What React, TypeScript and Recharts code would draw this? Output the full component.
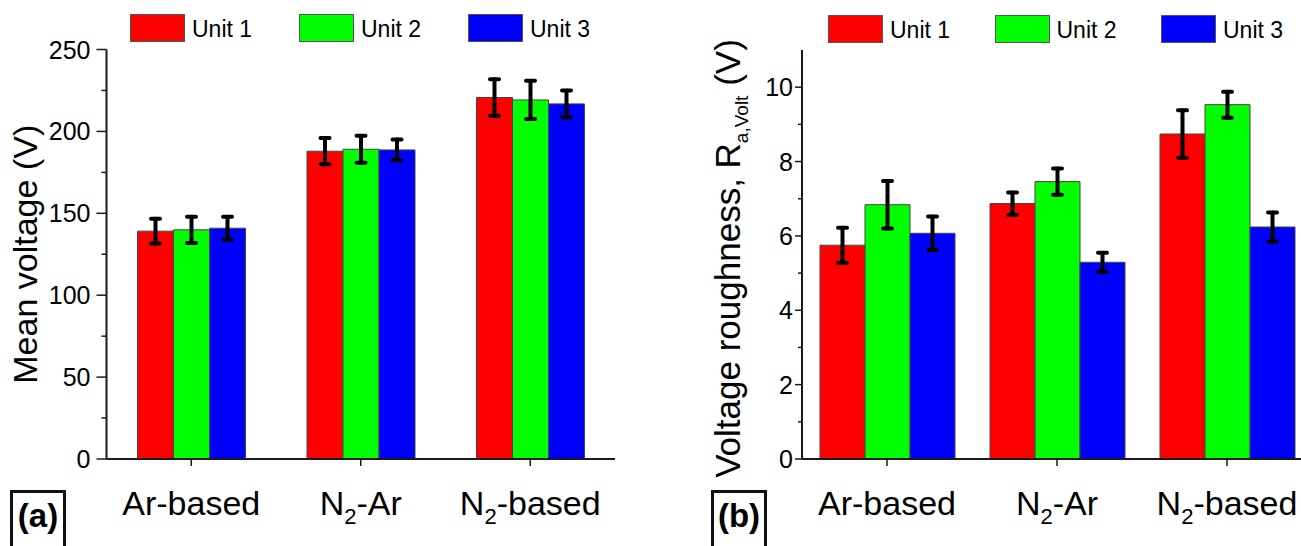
import React from "react";
import { BarChart, Bar, XAxis, YAxis, CartesianGrid, ErrorBar, Legend } from "recharts";

const categories = ["Ar-based", "N2-Ar", "N2-based"];
const unitNames = ["Unit 1", "Unit 2", "Unit 3"];

// (a) mean voltage (V) and its error
const meanUnit1 = [139.1, 187.9, 220.7];
const meanUnit2 = [139.9, 189.1, 219.2];
const meanUnit3 = [140.9, 188.7, 216.8];
const meanErr1 = [7.5, 8.0, 11.2];
const meanErr2 = [8.0, 8.3, 11.7];
const meanErr3 = [7.0, 6.3, 8.2];

// (b) voltage roughness Ra,Volt (V) and its error
const roughUnit1 = [5.75, 6.87, 8.74];
const roughUnit2 = [6.84, 7.46, 9.53];
const roughUnit3 = [6.07, 5.29, 6.24];
const roughErr1 = [0.47, 0.3, 0.64];
const roughErr2 = [0.64, 0.35, 0.35];
const roughErr3 = [0.45, 0.26, 0.39];

const meanMajor = [0, 50, 100, 150, 200, 250];
const meanMinor = [25, 75, 125, 175, 225];
const roughMajor = [0, 2, 4, 6, 8, 10];
const roughMinor = [1, 3, 5, 7, 9];

const meanRows = categories.map((cat, i) => ({
  cat,
  u1: meanUnit1[i], u2: meanUnit2[i], u3: meanUnit3[i],
  e1: meanErr1[i], e2: meanErr2[i], e3: meanErr3[i],
}));
const roughRows = categories.map((cat, i) => ({
  cat,
  u1: roughUnit1[i], u2: roughUnit2[i], u3: roughUnit3[i],
  e1: roughErr1[i], e2: roughErr2[i], e3: roughErr3[i],
}));

const FONT = '"Liberation Sans", Arial, Helvetica, sans-serif';
const COLORS = ["#ff0000", "#00ff00", "#0000ff"];
const AXIS = "#1a1a1a";

const CatTick = (props: any) => {
  const { x, y, payload } = props;
  const m = /^([A-Za-z]+)(\d)(.*)$/.exec(String(payload.value));
  return (
    <text x={x} y={y + 47} textAnchor="middle" fontSize={34} fontFamily={FONT} fill="#000">
      {m ? (
        <>
          <tspan>{m[1]}</tspan>
          <tspan fontSize={22} dy={9}>{m[2]}</tspan>
          <tspan dy={-9}>{m[3]}</tspan>
        </>
      ) : (
        payload.value
      )}
    </text>
  );
};

const makeValueTick = (major: number[], len: number, minorLen: number, gap: number) => (props: any) => {
  const { x, y, payload } = props;
  const isMajor = major.includes(payload.value);
  const l = isMajor ? len : minorLen;
  return (
    <g>
      <line x1={x} x2={x - l} y1={y} y2={y} stroke={AXIS} strokeWidth={1.5} />
      {isMajor && (
        <text x={x - len - gap} y={y} dy={9} textAnchor="end" fontSize={25} fontFamily={FONT} fill="#000">
          {payload.value}
        </text>
      )}
    </g>
  );
};

const MeanTitle = (props: any) => {
  const vb = props.viewBox || { x: 0, y: 0, height: 0 };
  const cx = vb.x + 37;
  const cy = vb.y + vb.height / 2;
  return (
    <text x={cx} y={cy} transform={`rotate(-90 ${cx} ${cy})`} textAnchor="middle" fontSize={34} fontFamily={FONT} fill="#000">
      Mean voltage (V)
    </text>
  );
};

const RoughTitle = (props: any) => {
  const vb = props.viewBox || { x: 0, y: 0, height: 0 };
  const cx = vb.x + 90;
  const cy = vb.y + vb.height / 2 + 4;
  return (
    <text x={cx} y={cy} transform={`rotate(-90 ${cx} ${cy})`} textAnchor="middle" fontSize={35} fontFamily={FONT} fill="#000">
      <tspan>Voltage roughness, R</tspan>
      <tspan fontSize={19} dy={8}>a,Volt</tspan>
      <tspan dy={-8}> (V)</tspan>
    </text>
  );
};

const makeLegend = (start: number, step: number, top: number) => (props: any) => (
  <div style={{ position: "relative", height: 60 }}>
    {(props.payload || []).map((entry: any, i: number) => (
      <div key={entry.value} style={{ position: "absolute", left: start + i * step, top }}>
        <div
          style={{
            position: "absolute", left: 0, top: 0, width: 55, height: 28,
            background: entry.color, border: "1px solid #555", boxSizing: "border-box",
          }}
        />
        <div
          style={{
            position: "absolute", left: 62, top: 1, fontSize: 23, lineHeight: "28px",
            whiteSpace: "nowrap", fontFamily: FONT, color: "#000",
          }}
        >
          {entry.value}
        </div>
      </div>
    ))}
  </div>
);

type PanelProps = {
  rows: any[];
  width: number;
  marginTop: number;
  marginRight: number;
  axisWidth: number;
  domain: [number, number];
  major: number[];
  minor: number[];
  tickLen: number;
  minorLen: number;
  tickGap: number;
  barSize: number;
  title: React.ReactElement;
  legend: (p: any) => React.ReactNode;
};

const Panel = (p: PanelProps) => {
  const allTicks = [...p.major, ...p.minor].sort((a, b) => a - b);
  return (
    <BarChart
      width={p.width}
      height={546}
      data={p.rows}
      barGap={0}
      margin={{ top: p.marginTop, right: p.marginRight, left: 0, bottom: 0 }}
    >
      <CartesianGrid
        vertical={false}
        stroke="#c8c8c8"
        strokeWidth={1.3}
        horizontalCoordinatesGenerator={(args: any) =>
          args && args.yAxis && typeof args.yAxis.scale === "function"
            ? p.major.map((v) => args.yAxis.scale(v))
            : []
        }
      />
      <XAxis
        dataKey="cat"
        height={87}
        interval={0}
        tickSize={7}
        tickLine={{ stroke: AXIS, strokeWidth: 1.5 }}
        axisLine={{ stroke: AXIS, strokeWidth: 2 }}
        tick={<CatTick />}
      />
      <XAxis
        xAxisId="top"
        orientation="top"
        dataKey="cat"
        height={0}
        tick={false}
        tickLine={false}
        axisLine={{ stroke: AXIS, strokeWidth: 2 }}
      />
      <YAxis
        type="number"
        width={p.axisWidth}
        domain={p.domain}
        ticks={allTicks}
        interval={0}
        tickSize={0}
        tickMargin={0}
        tickLine={false}
        axisLine={{ stroke: AXIS, strokeWidth: 2 }}
        tick={makeValueTick(p.major, p.tickLen, p.minorLen, p.tickGap)}
        label={p.title}
      />
      <YAxis
        yAxisId="right"
        orientation="right"
        type="number"
        width={0}
        domain={p.domain}
        tick={false}
        tickLine={false}
        axisLine={{ stroke: AXIS, strokeWidth: 2 }}
      />
      <Legend
        layout="vertical"
        align="center"
        verticalAlign="middle"
        wrapperStyle={{ left: 0, top: 0, width: p.width, height: 60 }}
        content={p.legend}
      />
      {unitNames.map((name, i) => (
        <Bar
          key={name}
          dataKey={`u${i + 1}`}
          name={name}
          fill={COLORS[i]}
          stroke="#444"
          strokeWidth={1}
          barSize={p.barSize}
          isAnimationActive={false}
        >
          <ErrorBar
            dataKey={`e${i + 1}`}
            width={4.5}
            stroke="#000"
            strokeWidth={4}
            strokeLinecap="round"
            isAnimationActive={false}
          />
        </Bar>
      ))}
    </BarChart>
  );
};

const PanelTag = ({ left, text }: { left: number; text: string }) => (
  <div
    style={{
      position: "absolute", left, top: 490, width: 56, height: 80,
      border: "3px solid #111", boxSizing: "border-box",
    }}
  >
    <div
      style={{
        position: "absolute", left: 0, right: 0, top: 4, textAlign: "center",
        fontFamily: FONT, fontWeight: "bold", fontSize: 33, lineHeight: "38px", color: "#000",
      }}
    >
      {text}
    </div>
  </div>
);

export default function App() {
  return (
    <div
      style={{
        position: "absolute", left: 0, top: 0, width: 1301, height: 546,
        overflow: "hidden", background: "#fff",
      }}
    >
      <div style={{ position: "absolute", left: 0, top: 0 }}>
        <Panel
          rows={meanRows}
          width={640}
          marginTop={49.5}
          marginRight={25}
          axisWidth={106.5}
          domain={[0, 250]}
          major={meanMajor}
          minor={meanMinor}
          tickLen={10}
          minorLen={5}
          tickGap={6}
          barSize={36}
          title={<MeanTitle />}
          legend={makeLegend(130, 169, 14)}
        />
      </div>
      <div style={{ position: "absolute", left: 650, top: 0 }}>
        <Panel
          rows={roughRows}
          width={700}
          marginTop={50}
          marginRight={38}
          axisWidth={152}
          domain={[0, 11]}
          major={roughMajor}
          minor={roughMinor}
          tickLen={7}
          minorLen={4}
          tickGap={2}
          barSize={45}
          title={<RoughTitle />}
          legend={makeLegend(178, 166.5, 15)}
        />
      </div>
      <PanelTag left={10} text="(a)" />
      <PanelTag left={711} text="(b)" />
    </div>
  );
}
